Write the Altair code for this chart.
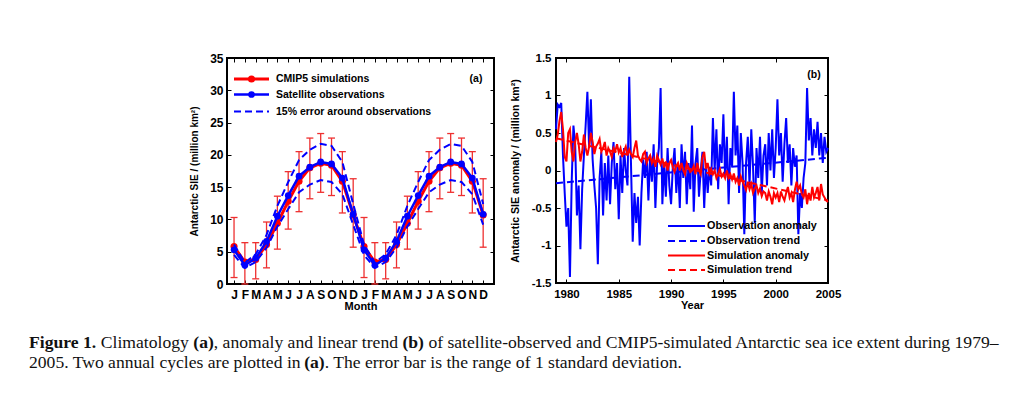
import json
import pandas as pd
import altair as alt

SANS = "Liberation Sans"
SERIF = "Liberation Serif"
RED = "#ff0000"
BLUE = "#0000ff"
ERR_RED = "#ee3030"

# ---------------- Panel (a): climatology ----------------
MONTH_LETTERS = ["J", "F", "M", "A", "M", "J", "J", "A", "S", "O", "N", "D"]
SIM_CLIM = [5.8, 3.4, 3.8, 6.1, 9.4, 12.8, 15.9, 18.0, 18.7, 18.4, 15.9, 10.7]
SIM_STD_HI = [10.3, 6.4, 6.4, 9.6, 13.6, 17.4, 20.5, 22.6, 23.3, 22.6, 20.5, 16.3]
SIM_STD_LO = [1.0, 0.0, 0.8, 2.5, 5.4, 8.5, 11.2, 13.2, 14.2, 13.7, 11.0, 5.7]
OBS_CLIM = [5.3, 2.9, 4.0, 6.6, 10.5, 13.7, 16.7, 18.1, 18.9, 18.6, 16.4, 10.8]
OBS_UPPER = [6.1, 3.3, 4.6, 7.6, 12.1, 15.8, 19.2, 20.8, 21.7, 21.4, 18.9, 12.4]
OBS_LOWER = [4.5, 2.5, 3.4, 5.6, 8.9, 11.6, 14.2, 15.4, 16.1, 15.8, 13.9, 9.2]
N_CYCLES = 2
LEGEND_A = ["CMIP5 simulations", "Satellite observations", "15% error around observations"]

# ---------------- Panel (b): anomalies (Jan, Mar, May, Jul, Sep, Nov) ----------------
YEARS = list(range(1979, 2005))
SAMPLE_MONTHS = [1, 3, 5, 7, 9, 11]
OBS_ANOM = [
    [0.55, 0.88, 0.85, 0.90, 0.20, -0.30],   # 1979
    [-0.75, -0.50, -1.42, -0.15, 0.60, 0.35],
    [-0.60, -0.20, -1.05, -0.25, 0.20, 0.60],
    [1.05, 0.30, 0.95, 0.15, -0.20, -0.50],
    [-1.25, -0.10, 0.25, -0.60, 0.10, -0.40],
    [0.20, -0.45, 0.10, 0.38, -0.25, 0.10],
    [-0.65, 0.20, -0.30, 0.30, 0.00, -0.20],
    [1.25, 0.10, -0.95, -0.30, -0.70, -0.35],
    [-1.00, -0.30, 0.15, -0.10, 0.25, -0.40],
    [0.20, -0.15, 0.35, -0.50, 0.10, 0.30],
    [1.10, -0.45, 0.10, -0.35, 0.30, -0.20],  # 1989
    [-0.45, 0.05, 0.30, -0.30, 0.10, -0.50],
    [0.35, -0.10, 0.25, -0.45, 0.10, -0.25],
    [0.60, -0.55, 0.10, 0.30, -0.35, 0.00],
    [0.25, -0.50, 0.10, -0.30, 0.05, -0.20],
    [0.70, 0.00, 0.55, -0.25, 0.35, 0.10],
    [0.75, -0.10, 0.45, -0.45, 0.30, 0.05],
    [1.05, 0.20, 0.60, -0.30, 0.50, 0.10],
    [-0.85, 0.10, 0.45, -0.20, 0.55, 0.05],
    [-0.70, 0.30, -0.10, 0.45, -0.30, 0.20],
    [0.35, -0.20, 0.50, 0.00, 0.55, -0.10],   # 1999
    [0.30, 0.95, 0.20, 0.50, -0.15, 0.35],
    [0.70, 0.10, 0.35, -0.20, 0.30, 0.05],
    [0.20, -0.85, -0.30, -0.50, -0.10, 0.10],
    [1.10, 0.40, 0.70, 0.20, 0.55, 0.30],
    [0.65, 0.20, 0.50, 0.10, 0.45, 0.25],     # 2004
]
OBS_ANOM_END = 0.30
SIM_ANOM = [
    [0.38, 0.48, 0.66, 0.78, 0.55, 0.18],     # 1979
    [0.12, 0.50, 0.55, 0.25, 0.12, 0.38],
    [0.50, 0.35, 0.12, 0.25, 0.48, 0.30],
    [0.20, 0.32, 0.50, 0.38, 0.22, 0.32],
    [0.36, 0.42, 0.25, 0.30, 0.38, 0.20],
    [0.30, 0.25, 0.18, 0.30, 0.26, 0.35],
    [0.24, 0.30, 0.18, 0.26, 0.32, 0.20],
    [0.28, 0.22, 0.18, 0.30, 0.40, 0.20],
    [0.15, 0.12, 0.22, 0.25, 0.10, 0.16],
    [0.20, 0.10, 0.16, 0.05, 0.20, 0.14],
    [0.08, 0.16, 0.04, 0.12, 0.00, 0.10],     # 1989
    [0.14, 0.04, -0.02, 0.06, 0.10, 0.00],
    [0.10, 0.00, -0.05, 0.10, 0.04, -0.02],
    [0.00, 0.06, -0.05, 0.10, 0.00, -0.05],
    [0.18, 0.25, 0.02, 0.10, -0.04, 0.02],
    [-0.05, 0.00, -0.10, -0.04, 0.02, -0.08],
    [-0.04, -0.10, 0.00, -0.10, -0.05, -0.12],
    [-0.04, -0.15, -0.10, -0.20, -0.08, -0.15],
    [-0.20, -0.26, -0.15, -0.25, -0.18, -0.30],
    [-0.24, -0.20, -0.30, -0.24, -0.34, -0.28],
    [-0.30, -0.40, -0.28, -0.35, -0.45, -0.30],  # 1999
    [-0.36, -0.30, -0.42, -0.28, -0.35, -0.40],
    [-0.30, -0.22, -0.36, -0.30, -0.42, -0.26],
    [-0.15, -0.25, -0.20, -0.32, -0.36, -0.25],
    [-0.45, -0.30, -0.40, -0.22, -0.36, -0.30],
    [-0.22, -0.40, -0.18, -0.32, -0.36, -0.40],  # 2004
]
SIM_ANOM_END = -0.42
END_YEAR = 2005
TREND_YEARS = [1979, 2005]
OBS_TREND = [-0.17, 0.17]
SIM_TREND = [0.43, -0.40]
LEGEND_B = ["Observation anomaly", "Observation trend", "Simulation anomaly", "Simulation trend"]

# ---------------- Caption ----------------
CAPTION_LINE1 = [("Figure 1.", True), (" Climatology ", False), ("(a)", True),
                 (", anomaly and linear trend ", False), ("(b)", True),
                 (" of satellite-observed and CMIP5-simulated Antarctic sea ice extent during 1979\u2013", False)]
CAPTION_LINE2 = [("2005. Two annual cycles are plotted in ", False), ("(a)", True),
                 (". The error bar is the range of 1 standard deviation.", False)]

# ---------------- Build data frames ----------------
clim_rows = []
for c in range(N_CYCLES):
    for i in range(12):
        clim_rows.append(dict(m=c * 12 + i + 1, sim=SIM_CLIM[i], hi=SIM_STD_HI[i], lo=SIM_STD_LO[i],
                              obs=OBS_CLIM[i], up=OBS_UPPER[i], dn=OBS_LOWER[i]))
clim = pd.DataFrame(clim_rows)

t_vals, o_vals, s_vals = [], [], []
for yi, yr in enumerate(YEARS):
    for mi, mo in enumerate(SAMPLE_MONTHS):
        t_vals.append(yr + (mo - 1) / 12.0)
        o_vals.append(OBS_ANOM[yi][mi])
        s_vals.append(SIM_ANOM[yi][mi])
t_vals.append(float(END_YEAR)); o_vals.append(OBS_ANOM_END); s_vals.append(SIM_ANOM_END)
anom = pd.DataFrame(dict(t=t_vals, obs=o_vals, sim=s_vals))
trend = pd.DataFrame(dict(t=TREND_YEARS, obs=OBS_TREND, sim=SIM_TREND))
one = pd.DataFrame({"k": [0]})

# ---------------- Axis helpers ----------------
def axis_main(orient, values, title, label_expr, title_x, title_y, angle, label_size, title_size, label_pad):
    return alt.Axis(orient=orient, values=values, domain=False, grid=False, ticks=True, tickSize=4,
                    tickWidth=1, tickColor="black", offset=-4, labelPadding=label_pad, labelFont=SANS,
                    labelFontSize=label_size, labelFontWeight="bold", labelColor="black",
                    labelExpr=label_expr, labelFlush=False, labelOverlap=False, title=title,
                    titleFont=SANS, titleFontSize=title_size, titleFontWeight="bold", titleColor="black",
                    titleX=title_x, titleY=title_y, titleAlign="center", titleBaseline="middle",
                    titleAngle=angle)


def axis_mirror(orient, values):
    return alt.Axis(orient=orient, values=values, domain=False, grid=False, ticks=True, tickSize=4,
                    tickWidth=1, tickColor="black", offset=-4, labels=False, title=None)


def bound_box(x1, x2, y1, y2):
    return alt.Chart(one).mark_rect(opacity=0).encode(
        x=alt.value(x1), x2=alt.value(x2), y=alt.value(y1), y2=alt.value(y2))


def legend_text(x, y, label, size):
    return alt.Chart(one).mark_text(align="left", baseline="middle", font=SANS, fontSize=size,
                                    fontWeight="bold", color="black").encode(
        x=alt.value(x), y=alt.value(y), text=alt.value(label))


def legend_line(x1, x2, y, color, width, dash):
    return alt.Chart(one).mark_rule(color=color, strokeWidth=width, strokeDash=dash).encode(
        x=alt.value(x1), x2=alt.value(x2), y=alt.value(y))


# ---------------- Panel (a) ----------------
W_A, H_A = 267, 226
LEFT_SHIFT = 198          # caption starts this far left of panel (a)'s plot area
xs_a = alt.Scale(domain=[0.35, 25], nice=False, zero=False)
ys_a = alt.Scale(domain=[0, 35], nice=False, zero=False)
month_vals = list(range(1, 12 * N_CYCLES + 1))
month_expr = json.dumps(MONTH_LETTERS * N_CYCLES) + "[datum.value - 1]"
yvals_a = list(range(0, 36, 5))

xa_none = alt.X("m:Q", scale=xs_a, axis=None)
base_a = alt.Chart(clim)

err_rule = base_a.mark_rule(color=ERR_RED, strokeWidth=1.3).encode(
    x=xa_none, y=alt.Y("lo:Q", scale=ys_a, axis=None), y2="hi:Q")
cap_hi = base_a.mark_rule(color=ERR_RED, strokeWidth=1.3, xOffset=-3.5, x2Offset=3.5).encode(
    x=xa_none, x2="m:Q", y=alt.Y("hi:Q", scale=ys_a, axis=None))
cap_lo = base_a.mark_rule(color=ERR_RED, strokeWidth=1.3, xOffset=-3.5, x2Offset=3.5).encode(
    x=xa_none, x2="m:Q", y=alt.Y("lo:Q", scale=ys_a, axis=None))
sim_line = base_a.mark_line(color=RED, strokeWidth=3).encode(
    x=alt.X("m:Q", scale=xs_a,
            axis=axis_main("bottom", month_vals, "Month", month_expr, W_A / 2, 26, 0, 12, 11, 5)),
    y=alt.Y("sim:Q", scale=ys_a,
            axis=axis_main("left", yvals_a, "Antarctic SIE / (million km\u00b2)", "'' + datum.value",
                           -37, H_A / 2, 270, 12, 10, 4)))
sim_pts = base_a.mark_circle(color=RED, size=50, opacity=1).encode(
    x=xa_none, y=alt.Y("sim:Q", scale=ys_a, axis=None))
obs_line = base_a.mark_line(color=BLUE, strokeWidth=2.5).encode(
    x=alt.X("m:Q", scale=xs_a, axis=axis_mirror("top", month_vals)),
    y=alt.Y("obs:Q", scale=ys_a, axis=axis_mirror("right", yvals_a)))
obs_pts = base_a.mark_circle(color=BLUE, size=45, opacity=1).encode(
    x=xa_none, y=alt.Y("obs:Q", scale=ys_a, axis=None))
up_line = base_a.mark_line(color=BLUE, strokeWidth=2, strokeDash=[7, 4]).encode(
    x=xa_none, y=alt.Y("up:Q", scale=ys_a, axis=None))
dn_line = base_a.mark_line(color=BLUE, strokeWidth=2, strokeDash=[7, 4]).encode(
    x=xa_none, y=alt.Y("dn:Q", scale=ys_a, axis=None))

leg_a_y = [21, 36.5, 53.5]
leg_a = [
    legend_line(7, 42, leg_a_y[0], RED, 3, [1, 0]),
    alt.Chart(one).mark_circle(color=RED, size=50, opacity=1).encode(x=alt.value(24.5), y=alt.value(leg_a_y[0])),
    legend_line(7, 42, leg_a_y[1], BLUE, 2.5, [1, 0]),
    alt.Chart(one).mark_circle(color=BLUE, size=45, opacity=1).encode(x=alt.value(24.5), y=alt.value(leg_a_y[1])),
    legend_line(7, 42, leg_a_y[2], BLUE, 2, [7, 4]),
]
for i, lab in enumerate(LEGEND_A):
    leg_a.append(legend_text(49, leg_a_y[i], lab, 10.5))
tag_a = alt.Chart(one).mark_text(align="center", baseline="middle", font=SANS, fontSize=10.5,
                                 fontWeight="bold", color="black").encode(
    x=alt.value(249), y=alt.value(21), text=alt.value("(a)"))

panel_a = alt.layer(
    bound_box(-LEFT_SHIFT, W_A + 5, -10, H_A + 40),
    err_rule, cap_hi, cap_lo, sim_line, sim_pts, obs_line, obs_pts, up_line, dn_line,
    *leg_a, tag_a
).resolve_axis(x="independent", y="independent").properties(
    width=W_A, height=H_A, view=alt.ViewBackground(stroke="black", strokeWidth=2))

# ---------------- Panel (b) ----------------
W_B, H_B = 272, 225
xs_b = alt.Scale(domain=[1979, 2005], nice=False, zero=False)
ys_b = alt.Scale(domain=[-1.5, 1.5], nice=False, zero=False)
xvals_b = list(range(1980, 2006, 5))
yvals_b = [-1.5, -1, -0.5, 0, 0.5, 1, 1.5]
xb_none = alt.X("t:Q", scale=xs_b, axis=None)

obs_anom_line = alt.Chart(anom).mark_line(color=BLUE, strokeWidth=2).encode(
    x=alt.X("t:Q", scale=xs_b,
            axis=axis_main("bottom", xvals_b, "Year", "'' + datum.value", W_B / 2, 26, 0, 11.5, 11, 5)),
    y=alt.Y("obs:Q", scale=ys_b,
            axis=axis_main("left", yvals_b, "Antarctic SIE anomaly / (million km\u00b2)",
                           "'' + datum.value", -45, H_B / 2, 270, 11.5, 10.6, 5)))
obs_trend_line = alt.Chart(trend).mark_line(color=BLUE, strokeWidth=2, strokeDash=[7, 4]).encode(
    x=alt.X("t:Q", scale=xs_b, axis=axis_mirror("top", xvals_b)),
    y=alt.Y("obs:Q", scale=ys_b, axis=axis_mirror("right", yvals_b)))
sim_anom_line = alt.Chart(anom).mark_line(color=RED, strokeWidth=2).encode(
    x=xb_none, y=alt.Y("sim:Q", scale=ys_b, axis=None))
sim_trend_line = alt.Chart(trend).mark_line(color=RED, strokeWidth=2, strokeDash=[7, 4]).encode(
    x=xb_none, y=alt.Y("sim:Q", scale=ys_b, axis=None))

leg_b_y = [168, 183, 197.5, 212]
leg_b_style = [(BLUE, [1, 0]), (BLUE, [7, 4]), (RED, [1, 0]), (RED, [7, 4])]
leg_b = []
for i, lab in enumerate(LEGEND_B):
    col, dash = leg_b_style[i]
    leg_b.append(legend_line(112, 149, leg_b_y[i], col, 2, dash))
    leg_b.append(legend_text(151, leg_b_y[i], lab, 10.8))
tag_b = alt.Chart(one).mark_text(align="center", baseline="middle", font=SANS, fontSize=10.5,
                                 fontWeight="bold", color="black").encode(
    x=alt.value(258), y=alt.value(16.5), text=alt.value("(b)"))

panel_b = alt.layer(
    bound_box(-55, W_B + 5, -10, H_B + 41),
    obs_anom_line, obs_trend_line, sim_anom_line, sim_trend_line, *leg_b, tag_b
).resolve_axis(x="independent", y="independent").properties(
    width=W_B, height=H_B, view=alt.ViewBackground(stroke="black", strokeWidth=2))

# ---------------- Caption (Times metrics for segment placement) ----------------
CAP_SIZE = 17.6
TNR = {" ": 250, "(": 333, ")": 333, ",": 250, "-": 333, ".": 250, "\u2013": 500,
       "A": 722, "C": 667, "F": 556, "I": 333, "M": 889, "P": 556, "T": 611,
       "a": 444, "b": 500, "c": 444, "d": 500, "e": 444, "f": 333, "g": 500, "h": 500,
       "i": 278, "k": 500, "l": 278, "m": 778, "n": 500, "o": 500, "p": 500, "r": 333,
       "s": 389, "t": 278, "u": 500, "v": 500, "w": 722, "x": 500, "y": 500}
TNR_B = {" ": 250, "(": 333, ")": 333, ".": 250, "F": 611, "a": 500, "b": 556, "g": 500,
         "i": 278, "r": 444, "u": 556, "e": 444}
KERN_FIX = {("2005. Two annual cycles are plotted in ", False): -2.5}


def seg_w(s, bold):
    table = TNR_B if bold else TNR
    return sum(table.get(c, 500) for c in s) * CAP_SIZE / 1000.0


CAP_H = 46
cap_layers = [bound_box(-LEFT_SHIFT, -LEFT_SHIFT + 1, 0, CAP_H)]
for line, yb in ((CAPTION_LINE1, 21.5), (CAPTION_LINE2, 41.5)):
    x = -float(LEFT_SHIFT)
    for s, bold in line:
        lead = len(s) - len(s.lstrip(" "))
        cap_layers.append(alt.Chart(one).mark_text(
            align="left", baseline="alphabetic", font=SERIF, fontSize=CAP_SIZE,
            fontWeight="bold" if bold else "normal", color="#111111").encode(
            x=alt.value(x + seg_w(" " * lead, bold)), y=alt.value(yb), text=alt.value(s.strip())))
        x += seg_w(s, bold) + KERN_FIX.get((s, bold), 0.0)

caption = alt.layer(*cap_layers).properties(width=W_A, height=CAP_H)

chart = alt.vconcat(
    alt.hconcat(panel_a, panel_b, spacing=0),
    caption,
    spacing=0,
).properties(
    padding={"left": 20, "top": 39, "right": 5, "bottom": 2},
    background="white",
).configure_view(stroke="transparent")

chart.save("out.html", embed_options={"renderer": "svg", "actions": False})
